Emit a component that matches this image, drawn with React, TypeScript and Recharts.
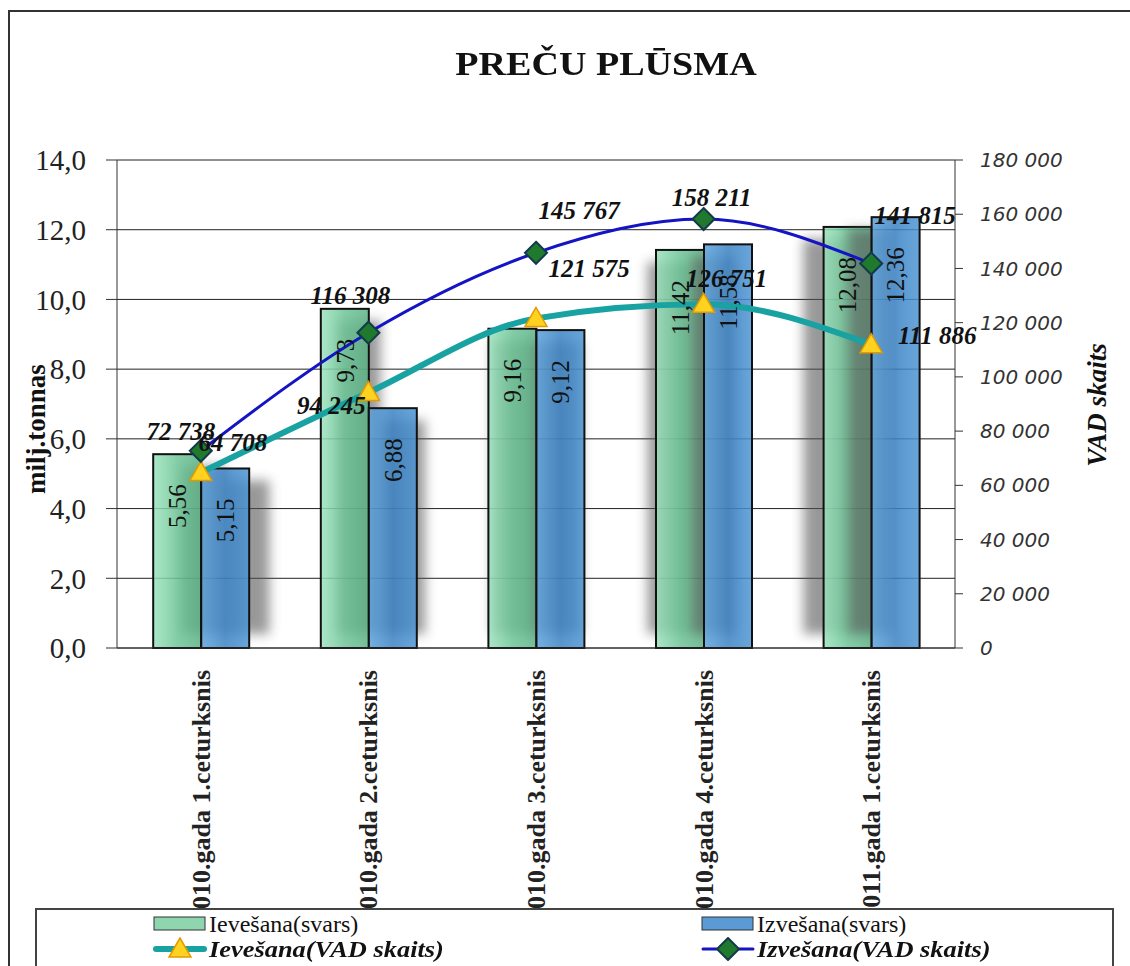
import React from 'react';
import { ComposedChart, Bar, Line, XAxis, YAxis, CartesianGrid, LabelList } from 'recharts';

// data
const quarters = [
  '2010.gada 1.ceturksnis',
  '2010.gada 2.ceturksnis',
  '2010.gada 3.ceturksnis',
  '2010.gada 4.ceturksnis',
  '2011.gada 1.ceturksnis',
];
const importWeight = [5.56, 9.73, 9.16, 11.42, 12.08];
const exportWeight = [5.15, 6.88, 9.12, 11.58, 12.36];
const importVad = [64708, 94245, 121575, 126751, 111886];
const exportVad = [72738, 116308, 145767, 158211, 141815];
const tonTicks = [0, 2, 4, 6, 8, 10, 12, 14];
const vadTicks = [0, 20000, 40000, 60000, 80000, 100000, 120000, 140000, 160000, 180000];

// nudges for the line value labels, px [dx, dy]
const importLabelShift = [[32, -30], [-37, 13], [53, -50], [23, -26], [66, -9]];
const exportLabelShift = [[-20, -19], [-18, -37], [43, -42], [8, -22], [44, -48]];

const rows = quarters.map((name, i) => ({
  name,
  iw: importWeight[i],
  ew: exportWeight[i],
  iv: importVad[i],
  ev: exportVad[i],
}));

const W = 1130;
const H = 966;
const margin = { top: 160, right: 75, bottom: 58, left: 17 };
const AXIS_W = 100;
const PLOT_LEFT = margin.left + AXIS_W;
const PLOT_RIGHT = W - margin.right - AXIS_W;
const PLOT_CX = (PLOT_LEFT + PLOT_RIGHT) / 2;

const SERIF = '"Liberation Serif", "Times New Roman", serif';
const TEAL = '#19a2a2';
const NAVY = '#1414c4';

const spaced = (n: number) => String(n).replace(/\B(?=(\d{3})+(?!\d))/g, ' ');
const comma = (n: number) => String(n).replace('.', ',');

function GlassBar(props: any) {
  const { x, y, width, height, fill } = props;
  if (!height || height <= 0) return null;
  // soft shadow, pulled a little toward the middle of the plot
  const sx = PLOT_CX + (x - PLOT_CX) * 0.93;
  return (
    <g>
      <rect
        x={sx}
        y={y + 12}
        width={width * 0.93}
        height={Math.max(height - 26, 0)}
        fill="#555"
        opacity={0.6}
        filter="url(#barShadow)"
      />
      <rect x={x} y={y} width={width} height={height} fill={fill} fillOpacity={0.84} stroke="#111" strokeWidth={2} />
    </g>
  );
}

function BarValue(props: any) {
  const { x, y, width, value } = props;
  const cx = x + width / 2;
  const top = y + 30;
  return (
    <text
      x={cx}
      y={top}
      dy="0.35em"
      transform={`rotate(-90 ${cx} ${top})`}
      textAnchor="end"
      fontFamily={SERIF}
      fontSize={25}
      fill="#111"
    >
      {comma(value)}
    </text>
  );
}

const lineValue = (shift: number[][], list: number[]) => (props: any) => {
  const { x, y, value } = props;
  const i = props.index ?? list.indexOf(value);
  const [dx, dy] = shift[i] || [0, -20];
  return (
    <text
      x={x + dx}
      y={y + dy}
      textAnchor="middle"
      dominantBaseline="central"
      fontFamily={SERIF}
      fontStyle="italic"
      fontWeight="bold"
      fontSize={25}
      fill="#111"
    >
      {spaced(value)}
    </text>
  );
};

function Tri({ cx, cy }: { cx: number; cy: number }) {
  return (
    <polygon
      points={`${cx},${cy - 11} ${cx - 11},${cy + 8} ${cx + 11},${cy + 8}`}
      fill="#ffd21f"
      stroke="#e39a00"
      strokeWidth={1.5}
    />
  );
}

function Diamond({ cx, cy }: { cx: number; cy: number }) {
  return (
    <polygon
      points={`${cx},${cy - 11} ${cx + 11},${cy} ${cx},${cy + 11} ${cx - 11},${cy}`}
      fill="#1f7a2e"
      stroke="#123a4a"
      strokeWidth={2}
    />
  );
}

function QuarterTick(props: any) {
  const { x, y, payload } = props;
  return (
    <text
      x={x}
      y={y}
      dy="0.35em"
      transform={`rotate(-90 ${x} ${y})`}
      textAnchor="end"
      fontFamily={SERIF}
      fontWeight="bold"
      fontSize={26}
      fill="#222"
    >
      {payload.value}
    </text>
  );
}

function SideTitle(props: any) {
  const { viewBox, text, dx, dy, italic } = props;
  const x = viewBox.x + dx;
  const y = viewBox.y + viewBox.height / 2 + dy;
  return (
    <text
      x={x}
      y={y}
      dy="0.35em"
      transform={`rotate(-90 ${x} ${y})`}
      textAnchor="middle"
      fontFamily={SERIF}
      fontWeight="bold"
      fontStyle={italic ? 'italic' : 'normal'}
      fontSize={27}
      fill="#111"
    >
      {text}
    </text>
  );
}

function LegendRow({ left, top, icon, label, italic }: any) {
  return (
    <div style={{ position: 'absolute', left, top, display: 'flex', alignItems: 'center', height: 24 }}>
      {icon}
      <span
        style={{
          display: 'inline-block',
          fontFamily: SERIF,
          fontSize: 24,
          fontWeight: italic ? 'bold' : 'normal',
          fontStyle: italic ? 'italic' : 'normal',
          color: '#111',
          marginLeft: 2,
          whiteSpace: 'nowrap',
          lineHeight: '24px',
          transform: italic ? 'scaleX(1.1)' : 'none',
          transformOrigin: '0 50%',
        }}
      >
        {label}
      </span>
    </div>
  );
}

export default function App() {
  return (
    <div style={{ position: 'absolute', left: 0, top: 0, width: W, height: H, overflow: 'hidden', background: '#fff' }}>
      <div
        style={{
          position: 'absolute',
          left: 8,
          top: 10,
          width: 1200,
          height: 1000,
          borderLeft: '2px solid #333',
          borderTop: '2px solid #333',
        }}
      />
      <div
        style={{
          position: 'absolute',
          left: 0,
          top: 44,
          width: 1212,
          textAlign: 'center',
          fontFamily: SERIF,
          fontWeight: 'bold',
          fontSize: 34,
          lineHeight: '40px',
          color: '#111',
          transform: 'scaleX(1.12)',
          transformOrigin: '606px 0',
        }}
      >
        PREČU PLŪSMA
      </div>
      <div style={{ position: 'absolute', left: 0, top: 0 }}>
        <ComposedChart width={W} height={H} data={rows} margin={margin} barCategoryGap="21.6%" barGap={0}>
          <defs>
            <linearGradient id="gGreen" x1="0" y1="0" x2="1" y2="0">
              <stop offset="0" stopColor="#9be3bd" />
              <stop offset="0.5" stopColor="#6cc596" />
              <stop offset="1" stopColor="#5ab184" />
            </linearGradient>
            <linearGradient id="gBlue" x1="0" y1="0" x2="1" y2="0">
              <stop offset="0" stopColor="#5aa2dc" />
              <stop offset="0.5" stopColor="#3a82c4" />
              <stop offset="1" stopColor="#4a94d4" />
            </linearGradient>
            <filter id="barShadow" x="-50%" y="-20%" width="200%" height="140%">
              <feGaussianBlur stdDeviation="6" />
            </filter>
          </defs>
          <CartesianGrid yAxisId="left" vertical={false} stroke="#222" strokeWidth={1} />
          <XAxis
            dataKey="name"
            height={260}
            interval={0}
            tickLine={false}
            tickSize={0}
            tickMargin={22}
            tick={<QuarterTick />}
            axisLine={{ stroke: '#333' }}
          />
          <YAxis
            yAxisId="left"
            width={AXIS_W}
            domain={[0, 14]}
            ticks={tonTicks}
            interval={0}
            tickSize={11}
            tickMargin={20}
            tickFormatter={(v: number) => v.toFixed(1).replace('.', ',')}
            tick={{ fontFamily: SERIF, fontSize: 29, fill: '#222' }}
            axisLine={{ stroke: '#333' }}
            tickLine={{ stroke: '#333' }}
            label={<SideTitle text="milj.tonnas" dx={19} dy={25} />}
          />
          <YAxis
            yAxisId="right"
            orientation="right"
            width={AXIS_W}
            domain={[0, 180000]}
            ticks={vadTicks}
            interval={0}
            tickSize={8}
            tickMargin={17}
            tickFormatter={(v: number) => spaced(v)}
            tick={{ fontFamily: '"DejaVu Sans", sans-serif', fontStyle: 'italic', fontSize: 20, fill: '#333' }}
            axisLine={{ stroke: '#333' }}
            tickLine={{ stroke: '#333' }}
            label={<SideTitle text="VAD skaits" dx={142} dy={1} italic />}
          />
          <Bar yAxisId="left" dataKey="iw" name="Ievešana(svars)" fill="url(#gGreen)" shape={<GlassBar />} isAnimationActive={false}>
            <LabelList dataKey="iw" content={<BarValue />} />
          </Bar>
          <Bar yAxisId="left" dataKey="ew" name="Izvešana(svars)" fill="url(#gBlue)" shape={<GlassBar />} isAnimationActive={false}>
            <LabelList dataKey="ew" content={<BarValue />} />
          </Bar>
          <Line
            yAxisId="right"
            type="monotone"
            dataKey="iv"
            name="Ievešana(VAD skaits)"
            stroke={TEAL}
            strokeWidth={6}
            dot={(p: any) => <Tri key={`t${p.index}`} cx={p.cx} cy={p.cy} />}
            activeDot={false}
            isAnimationActive={false}
          >
            <LabelList dataKey="iv" content={lineValue(importLabelShift, importVad)} />
          </Line>
          <Line
            yAxisId="right"
            type="monotone"
            dataKey="ev"
            name="Izvešana(VAD skaits)"
            stroke={NAVY}
            strokeWidth={3}
            dot={(p: any) => <Diamond key={`d${p.index}`} cx={p.cx} cy={p.cy} />}
            activeDot={false}
            isAnimationActive={false}
          >
            <LabelList dataKey="ev" content={lineValue(exportLabelShift, exportVad)} />
          </Line>
        </ComposedChart>
      </div>
      <div
        style={{
          position: 'absolute',
          left: 35,
          top: 908,
          width: 1079,
          height: 90,
          boxSizing: 'border-box',
          border: '2px solid #444',
          background: '#fff',
        }}
      >
        <LegendRow
          left={116}
          top={2}
          label="Ievešana(svars)"
          icon={
            <svg width={54} height={20}>
              <rect x={1} y={3} width={51} height={13} fill="#8fd6ae" stroke="#333" strokeWidth={1} />
            </svg>
          }
        />
        <LegendRow
          left={664}
          top={2}
          label="Izvešana(svars)"
          icon={
            <svg width={54} height={20}>
              <rect x={1} y={3} width={51} height={13} fill="#5b9bd5" stroke="#333" strokeWidth={1} />
            </svg>
          }
        />
        <LegendRow
          left={116}
          top={27}
          italic
          label="Ievešana(VAD skaits)"
          icon={
            <svg width={54} height={24}>
              <line x1={3} y1={12} x2={51} y2={12} stroke={TEAL} strokeWidth={6} strokeLinecap="round" />
              <Tri cx={27} cy={12} />
            </svg>
          }
        />
        <LegendRow
          left={664}
          top={27}
          italic
          label="Izvešana(VAD skaits)"
          icon={
            <svg width={54} height={24}>
              <line x1={2} y1={12} x2={52} y2={12} stroke={NAVY} strokeWidth={3} strokeLinecap="round" />
              <Diamond cx={27} cy={12} />
            </svg>
          }
        />
      </div>
    </div>
  );
}
